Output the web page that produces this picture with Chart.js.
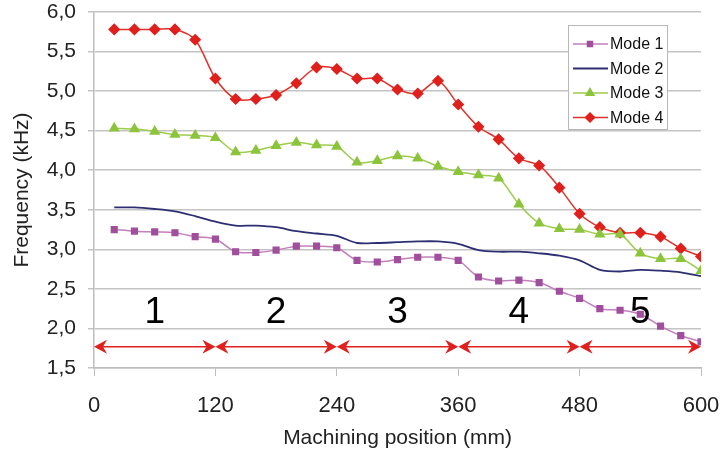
<!DOCTYPE html>
<html>
<head>
<meta charset="utf-8">
<script src="https://cdn.jsdelivr.net/npm/chart.js@4.4.0/dist/chart.umd.min.js"></script>
<style>
  html, body { margin: 0; padding: 0; background: #fff; }
  #wrap { width: 720px; height: 465px; }
</style>
</head>
<body>
<div id="wrap"><canvas id="chart" width="720" height="465"></canvas></div>
<script>
// positions along the workpiece (mm)
const positions = [20, 40, 60, 80, 100, 120, 140, 160, 180, 200, 220, 240, 260, 280, 300,
                   320, 340, 360, 380, 400, 420, 440, 460, 480, 500, 520, 540, 560, 580, 600];

// frequencies (kHz)
const mode1 = [3.25, 3.23, 3.22, 3.21, 3.16, 3.13, 2.97, 2.96, 2.99, 3.04, 3.04, 3.02, 2.86, 2.84, 2.87,
               2.90, 2.90, 2.86, 2.65, 2.60, 2.61, 2.58, 2.47, 2.38, 2.25, 2.23, 2.18, 2.03, 1.91, 1.83];
const mode2 = [3.53, 3.53, 3.51, 3.48, 3.42, 3.35, 3.30, 3.30, 3.28, 3.23, 3.20, 3.17, 3.08, 3.08, 3.09,
               3.10, 3.10, 3.07, 2.99, 2.97, 2.97, 2.95, 2.92, 2.86, 2.74, 2.72, 2.74, 2.73, 2.71, 2.66];
const mode3 = [4.53, 4.52, 4.49, 4.45, 4.44, 4.41, 4.23, 4.25, 4.31, 4.35, 4.32, 4.30, 4.10, 4.12, 4.18,
               4.15, 4.05, 3.98, 3.94, 3.90, 3.57, 3.33, 3.26, 3.25, 3.19, 3.19, 2.95, 2.88, 2.88, 2.73];
const mode4 = [5.78, 5.78, 5.78, 5.78, 5.65, 5.16, 4.90, 4.90, 4.95, 5.10, 5.30, 5.28, 5.16, 5.16, 5.02,
               4.97, 5.13, 4.83, 4.55, 4.39, 4.15, 4.06, 3.78, 3.45, 3.28, 3.21, 3.21, 3.16, 3.01, 2.91];

// machining zones: boundaries, labels and the level of the arrows
const zoneBounds = [0, 120, 240, 360, 480, 600];
const zoneLabels = ['1', '2', '3', '4', '5'];
const arrowLevel = 1.77;
const zoneLabelLevel = 2.2;

const xTicks = [0, 120, 240, 360, 480, 600];

const FONT = '"Liberation Sans", Arial, sans-serif';

function toPoints(values) {
    return positions.map((x, i) => ({ x: x, y: values[i] }));
}

// zones: red double arrows and big numbers
const zonePlugin = {
    id: 'zones',
    afterDatasetsDraw(chart) {
        const ctx = chart.ctx;
        const xs = chart.scales.x;
        const ys = chart.scales.y;
        const yPix = ys.getPixelForValue(arrowLevel);
        ctx.save();
        ctx.strokeStyle = '#e0201c';
        ctx.fillStyle = '#e0201c';
        ctx.lineWidth = 1.5;
        for (let i = 0; i < zoneBounds.length - 1; i++) {
            const a = xs.getPixelForValue(zoneBounds[i]);
            const b = xs.getPixelForValue(zoneBounds[i + 1]);
            ctx.beginPath();
            ctx.moveTo(a + 4, yPix);
            ctx.lineTo(b - 4, yPix);
            ctx.stroke();
            drawHead(ctx, a, yPix, -1);
            drawHead(ctx, b, yPix, 1);
        }
        ctx.fillStyle = '#000';
        ctx.font = '37px ' + FONT;
        ctx.textAlign = 'center';
        ctx.textBaseline = 'middle';
        const yl = ys.getPixelForValue(zoneLabelLevel);
        zoneLabels.forEach((lab, i) => {
            const mid = (zoneBounds[i] + zoneBounds[i + 1]) / 2;
            ctx.fillText(lab, xs.getPixelForValue(mid), yl);
        });
        ctx.restore();
    }
};

function drawHead(ctx, x, y, dir) {
    // dir = -1 points left, 1 points right; tip sits at x
    const len = 13, half = 7, notch = 4;
    ctx.beginPath();
    ctx.moveTo(x, y);
    ctx.lineTo(x - dir * len, y - half);
    ctx.lineTo(x - dir * (len - notch), y);
    ctx.lineTo(x - dir * len, y + half);
    ctx.closePath();
    ctx.fill();
}

// legend box drawn inside the plot, top right
const legendBoxPlugin = {
    id: 'legendBox',
    afterDraw(chart) {
        const ctx = chart.ctx;
        const left = 568, top = 25, w = 99, h = 104;
        ctx.save();
        ctx.fillStyle = '#fff';
        ctx.fillRect(left, top, w, h);
        ctx.strokeStyle = '#b8b8b8';
        ctx.lineWidth = 1;
        ctx.strokeRect(left + 0.5, top + 0.5, w, h);
        ctx.font = '16px ' + FONT;
        ctx.textBaseline = 'middle';
        chart.data.datasets.forEach((ds, i) => {
            const y = top + 19 + i * 24.5;
            ctx.strokeStyle = ds.borderColor;
            ctx.lineWidth = ds.borderWidth;
            ctx.beginPath();
            ctx.moveTo(left + 5, y);
            ctx.lineTo(left + 40, y);
            ctx.stroke();
            if (ds.pointRadius > 0) {
                ctx.fillStyle = ds.pointBackgroundColor;
                ctx.strokeStyle = ds.pointBorderColor;
                Chart.helpers.drawPoint(ctx, {
                    pointStyle: ds.pointStyle,
                    radius: ds.pointRadius - 0.5,
                    borderWidth: 1,
                    rotation: 0
                }, left + 22, y);
            }
            ctx.fillStyle = '#111';
            ctx.fillText(ds.label, left + 42, y + 1);
        });
        ctx.restore();
    }
};

new Chart(document.getElementById('chart').getContext('2d'), {
    type: 'line',
    data: {
        datasets: [{
            label: 'Mode 1',
            data: toPoints(mode1),
            borderColor: '#c27fbc',
            borderWidth: 1.5,
            pointStyle: 'rect',
            pointRadius: 4,
            pointBackgroundColor: '#a04f9c',
            pointBorderColor: '#a04f9c',
            tension: 0.3
        }, {
            label: 'Mode 2',
            data: toPoints(mode2),
            borderColor: '#2e2f72',
            borderWidth: 1.8,
            pointRadius: 0,
            tension: 0.3
        }, {
            label: 'Mode 3',
            data: toPoints(mode3),
            borderColor: '#9ccc4c',
            borderWidth: 1.5,
            pointStyle: 'triangle',
            pointRadius: 5,
            pointBackgroundColor: '#8cc43c',
            pointBorderColor: '#8cc43c',
            tension: 0.3
        }, {
            label: 'Mode 4',
            data: toPoints(mode4),
            borderColor: '#e0302a',
            borderWidth: 1.5,
            pointStyle: 'rectRot',
            pointRadius: 5,
            pointBackgroundColor: '#e0201c',
            pointBorderColor: '#e0201c',
            tension: 0.3
        }]
    },
    options: {
        responsive: false,
        animation: false,
        layout: { padding: { top: 12, right: 19, left: 0, bottom: 0 } },
        plugins: {
            legend: { display: false },
            tooltip: { enabled: false }
        },
        scales: {
            x: {
                type: 'linear',
                min: 0,
                max: 600,
                afterBuildTicks(axis) {
                    axis.ticks = xTicks.map(v => ({ value: v }));
                },
                afterFit(axis) {
                    axis.height = 97;
                    axis.paddingLeft = 0;
                    axis.paddingRight = 0;
                },
                grid: {
                    drawOnChartArea: false,
                    drawTicks: true,
                    tickLength: 8,
                    color: '#bdbdbd'
                },
                border: { color: '#bdbdbd', width: 1.5 },
                ticks: {
                    color: '#222',
                    padding: 17,
                    maxRotation: 0,
                    font: { family: FONT, size: 22 }
                },
                title: {
                    display: true,
                    text: 'Machining position (mm)',
                    color: '#222',
                    padding: { top: 0, bottom: 14 },
                    font: { family: FONT, size: 21 }
                }
            },
            y: {
                min: 1.5,
                max: 6.0,
                afterFit(axis) {
                    axis.width = 94;
                    axis.paddingTop = 0;
                    axis.paddingBottom = 0;
                },
                grid: {
                    color: '#c4c4c4',
                    lineWidth: 1.5,
                    tickLength: 6
                },
                border: { color: '#bdbdbd', width: 1.5 },
                ticks: {
                    stepSize: 0.5,
                    color: '#222',
                    padding: 12,
                    font: { family: FONT, size: 21 },
                    callback: v => v.toFixed(1).replace('.', ',')
                },
                title: {
                    display: true,
                    text: 'Frequency (kHz)',
                    color: '#222',
                    padding: { top: 10, bottom: 0 },
                    font: { family: FONT, size: 21 }
                }
            }
        }
    },
    plugins: [zonePlugin, legendBoxPlugin]
});
</script>
</body>
</html>
